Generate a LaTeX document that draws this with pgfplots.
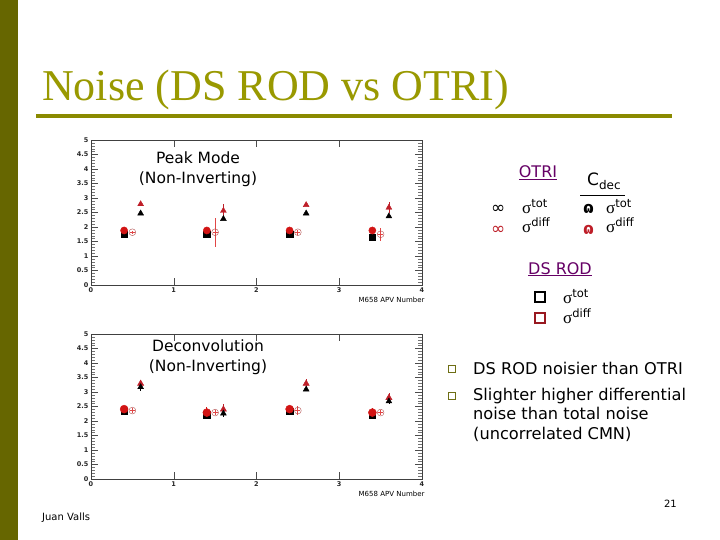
\documentclass[border=0pt]{standalone}
\usepackage{fontspec}
\setmainfont{DejaVu Sans}
\newfontfamily\titlefont{Liberation Serif}
\usepackage{pgfplots}
\pgfplotsset{compat=1.18}
\definecolor{olivebar}{RGB}{102,102,0}
\definecolor{olivetitle}{RGB}{153,153,0}
\definecolor{bulletolive}{RGB}{110,110,20}
\definecolor{legpurple}{RGB}{102,0,102}
\definecolor{rootred}{RGB}{210,20,20}
\definecolor{openred}{RGB}{180,80,80}
\definecolor{trired}{RGB}{190,30,40}
\definecolor{barred}{RGB}{225,70,70}

\newcommand{\sig}[1]{{\titlefont\fontsize{17}{18}\selectfont σ}\raisebox{6pt}{\fontsize{11.5}{12}\selectfont #1}}

\pgfplotsset{
  root panel/.style={
    scale only axis,
    width=331pt, height=145pt,
    xmin=0, xmax=4, ymin=0, ymax=5,
    xtick={0,1,2,3,4},
    ytick={0,0.5,1,1.5,2,2.5,3,3.5,4,4.5,5},
    yticklabels={0,0.5,1,1.5,2,2.5,3,3.5,4,4.5,5},
    minor y tick num=4,
    tick align=inside,
    major tick length=7pt,
    minor tick length=4pt,
    axis line style={black!75, line width=0.6pt},
    every tick/.style={black!70, line width=0.5pt},
    every minor tick/.style={black!55, line width=0.4pt},
    /pgf/number format/assume math mode=true,
    tick label style={font=\fontsize{6.5}{7}\selectfont\bfseries, black!85},
    yticklabel style={xshift=1pt},
    xticklabel style={yshift=1pt},
    xlabel={M658 APV Number},
    xlabel style={at={(rel axis cs:1,0)}, anchor=north east,
      font=\fontsize{7}{8}\selectfont, yshift=-9pt, xshift=6pt},
    clip=false,
  },
}

\begin{document}
\begin{tikzpicture}
% slide background and frame
\fill[white] (0pt,0pt) rectangle (720pt,-540pt);
\fill[olivebar] (0pt,0pt) rectangle (18pt,-540pt);

\begin{scope}[x=1pt, y=-1pt]
\node[anchor=base west, inner sep=0pt, olivetitle]
  at (42,101) {\titlefont\fontsize{44}{50}\selectfont Noise (DS ROD vs OTRI)};
\draw[olivetitle!90!black, line width=3.5pt] (36,116) -- (672,116);
\end{scope}

% ---- Peak mode ----
\begin{axis}[root panel, at={(91pt,-285pt)}, anchor=south west]
\addplot[only marks, mark=square*, mark size=3.2pt, black]
  coordinates {(0.4,1.75) (1.4,1.75) (2.4,1.75) (3.4,1.64)};
\addplot[only marks, mark=*, mark size=3.6pt, rootred]
  coordinates {(0.4,1.88) (1.4,1.88) (2.4,1.88) (3.4,1.88)};
\addplot[only marks, mark=o, mark size=3.4pt, draw=openred,
  error bars/.cd, y dir=both, y explicit, x dir=both, x explicit,
  error mark=none, error bar style={draw=barred, line width=0.9pt}]
  coordinates {(0.5,1.82) +- (0.03,0.05) (1.5,1.82) +- (0.03,0.5)
               (2.5,1.82) +- (0.03,0.08) (3.5,1.75) +- (0.03,0.22)};
\addplot[only marks, mark=triangle*, mark size=3.4pt, trired,
  error bars/.cd, y dir=both, y explicit, error mark=none,
  error bar style={draw=trired, line width=0.8pt}]
  coordinates {(0.6,2.79) +- (0,0.05) (1.6,2.56) +- (0,0.22)
               (2.6,2.76) +- (0,0.05) (3.6,2.67) +- (0,0.2)};
\addplot[only marks, mark=triangle*, mark size=3.4pt, black]
  coordinates {(0.6,2.47) (1.6,2.28) (2.6,2.47) (3.6,2.37)};
\end{axis}

% ---- Deconvolution ----
\begin{axis}[root panel, at={(91pt,-479pt)}, anchor=south west,
  x axis line style={black!30}]
\addplot[only marks, mark=square*, mark size=3.2pt, black]
  coordinates {(0.4,2.33) (1.4,2.22) (2.4,2.33) (3.4,2.22)};
\addplot[only marks, mark=*, mark size=4pt, rootred,
  error bars/.cd, y dir=both, y explicit, error mark=none,
  error bar style={draw=rootred, line width=0.8pt}]
  coordinates {(0.4,2.41) +- (0,0.12) (1.4,2.29) +- (0,0.2)
               (2.4,2.41) +- (0,0.08) (3.4,2.29) +- (0,0.17)};
\addplot[only marks, mark=o, mark size=3.4pt, draw=openred,
  error bars/.cd, y dir=both, y explicit, x dir=both, x explicit,
  error mark=none, error bar style={draw=barred, line width=0.8pt}]
  coordinates {(0.5,2.36) +- (0.03,0.1) (1.5,2.29) +- (0.03,0.1)
               (2.5,2.36) +- (0.03,0.15) (3.5,2.29) +- (0.03,0.1)};
\addplot[only marks, mark=triangle*, mark size=3.6pt, trired,
  error bars/.cd, y dir=both, y explicit, error mark=none,
  error bar style={draw=trired, line width=0.8pt}]
  coordinates {(0.6,3.29) +- (0,0.12) (1.6,2.40) +- (0,0.2)
               (2.6,3.29) +- (0,0.15) (3.6,2.80) +- (0,0.15)};
\addplot[only marks, mark=triangle*, mark size=3.4pt, black,
  error bars/.cd, y dir=both, y explicit, error mark=none,
  error bar style={draw=black, line width=0.8pt}]
  coordinates {(0.6,3.17) +- (0,0.12) (1.6,2.26) +- (0,0.12)
               (2.6,3.09) +- (0,0.05) (3.6,2.68) +- (0,0.08)};
\end{axis}

\begin{scope}[x=1pt, y=-1pt, every node/.style={inner sep=0pt}]
% panel captions
\node[align=center, font=\fontsize{15.5}{19.5}\selectfont] at (198,169)
  {Peak Mode\\(Non-Inverting)};
\node[align=center, font=\fontsize{15.5}{19.5}\selectfont] at (208,357)
  {Deconvolution\\(Non-Inverting)};

% legend
\node[anchor=base, legpurple, font=\fontsize{16}{18}\selectfont] at (538,178)
  {\underline{OTRI}};
\node[anchor=base west, font=\fontsize{17}{18}\selectfont] at (587,186)
  {C\raisebox{-3pt}{\fontsize{12}{12}\selectfont dec}};
\draw[black, line width=0.8pt] (580,195) -- (625,195);
\node[anchor=base west, font=\fontsize{17}{18}\selectfont] at (491,214) {∞};
\node[anchor=base west, font=\fontsize{17}{18}\selectfont, trired] at (491,234) {∞};
\node[anchor=base west, font=\fontsize{16}{18}\selectfont\bfseries] at (583,214) {ɷ};
\node[anchor=base west, font=\fontsize{16}{18}\selectfont\bfseries, trired] at (583,234) {ɷ};
\node[anchor=base west] at (522,214) {\sig{tot}};
\node[anchor=base west] at (522,233) {\sig{diff}};
\node[anchor=base west] at (606,214) {\sig{tot}};
\node[anchor=base west] at (606,233) {\sig{diff}};

\node[anchor=base, legpurple, font=\fontsize{16}{18}\selectfont] at (560,274)
  {\underline{DS ROD}};
\node[draw=black, line width=1.7pt, minimum size=10pt] at (540,297) {};
\node[draw=trired!80!black, line width=1.7pt, minimum size=10pt] at (540,318) {};
\node[anchor=base west] at (563,303) {\sig{tot}};
\node[anchor=base west] at (563,323) {\sig{diff}};

% bullets
\node[draw=bulletolive, line width=1.4pt, minimum size=7.5pt] at (452,369) {};
\node[draw=bulletolive, line width=1.4pt, minimum size=7.5pt] at (452,396) {};
\node[anchor=base west, font=\fontsize{16.2}{19}\selectfont] at (473,374)
  {DS ROD noisier than OTRI};
\node[anchor=north west, align=left, font=\fontsize{16.2}{19.3}\selectfont]
  at (473,388) {Slighter higher differential\\noise than total noise\\(uncorrelated CMN)};

% footer
\node[anchor=base east, font=\fontsize{10}{12}\selectfont] at (677,507) {21};
\node[anchor=base west, font=\fontsize{10}{12}\selectfont] at (42,520) {Juan Valls};
\end{scope}
\end{tikzpicture}
\end{document}
